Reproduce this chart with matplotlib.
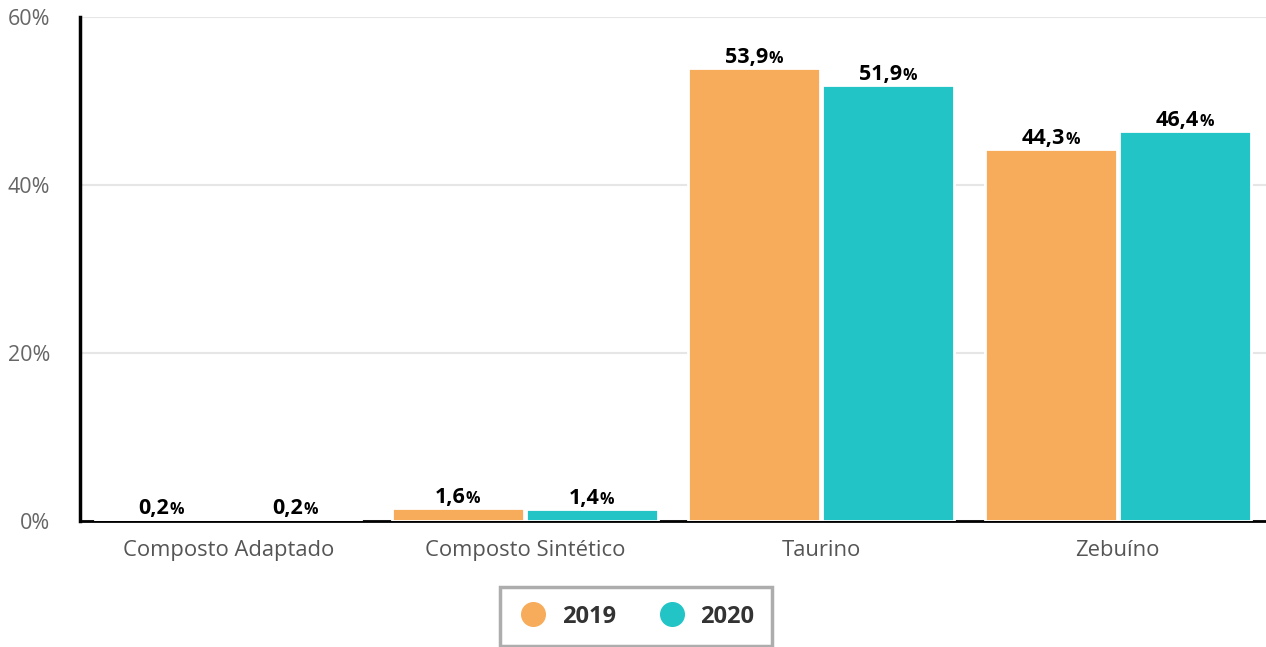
import matplotlib.pyplot as plt
import numpy as np
from matplotlib.offsetbox import TextArea, HPacker, AnnotationBbox
from matplotlib.lines import Line2D

categories = ['Composto Adaptado', 'Composto Sintético', 'Taurino', 'Zebuíno']
vals_2019 = [0.2, 1.6, 53.9, 44.3]
vals_2020 = [0.2, 1.4, 51.9, 46.4]
labels_2019 = ['0,2', '1,6', '53,9', '44,3']
labels_2020 = ['0,2', '1,4', '51,9', '46,4']

c2019 = '#F7AC5B'
c2020 = '#22C4C6'

plt.rcParams['font.family'] = ['Open Sans', 'DejaVu Sans']

fig = plt.figure(figsize=(12.66, 6.47), dpi=100)
ax = fig.add_axes([0.0632, 0.1947, 0.9368, 0.779])

x = np.arange(len(categories))
w = 0.445
off = 0.226
ax.bar(x - off, vals_2019, w, color=c2019, edgecolor='white', linewidth=2, zorder=3)
ax.bar(x + off, vals_2020, w, color=c2020, edgecolor='white', linewidth=2, zorder=3)


def label(xp, v, txt):
    num = TextArea(txt, textprops=dict(fontsize=15.5, fontweight='bold', color='black'))
    pct = TextArea('%', textprops=dict(fontsize=11.5, fontweight='bold', color='black'))
    box = HPacker(children=[num, pct], align='baseline', pad=0, sep=0)
    ab = AnnotationBbox(box, (xp, v), xybox=(0, 0), xycoords='data',
                        boxcoords='offset points', frameon=False,
                        box_alignment=(0.5, 0), zorder=5)
    ax.add_artist(ab)


for i in range(len(categories)):
    label(x[i] - off, vals_2019[i], labels_2019[i])
    label(x[i] + off, vals_2020[i], labels_2020[i])

ax.set_xlim(-0.5, 3.5)
ax.set_ylim(0, 60)
ax.set_yticks([0, 20, 40, 60])
ax.set_yticklabels(['0%', '20%', '40%', '60%'])
ax.set_xticks(x)
ax.set_xticklabels(categories)
ax.tick_params(axis='y', length=0, labelsize=15.5, labelcolor='#666666', pad=21.5)
ax.tick_params(axis='x', length=0, labelsize=15.8, labelcolor='#555555', pad=14)
ax.grid(axis='y', color='#e6e6e6', linewidth=1.5, zorder=0)
ax.set_axisbelow(True)

for s in ['top', 'right']:
    ax.spines[s].set_visible(False)
ax.spines['left'].set_linewidth(2.5)
ax.spines['left'].set_color('black')
ax.spines['bottom'].set_linewidth(2)
ax.spines['bottom'].set_color('black')
ax.spines['bottom'].set_zorder(2)

handles = [Line2D([], [], marker='o', linestyle='', markersize=17, color=c2019),
           Line2D([], [], marker='o', linestyle='', markersize=17, color=c2020)]
leg = fig.legend(handles, ['2019', '2020'], loc='center', bbox_to_anchor=(0.5025, 0.047),
                 ncol=2, frameon=True, fancybox=False, handlelength=1.3, handletextpad=0.55,
                 columnspacing=1.74, borderpad=0.75, prop=dict(size=17, weight='bold'))
for t in leg.get_texts():
    t.set_color('#333333')
leg.get_frame().set_edgecolor('#999999')
leg.get_frame().set_linewidth(2.5)

fig.savefig('out.png', dpi=100)
